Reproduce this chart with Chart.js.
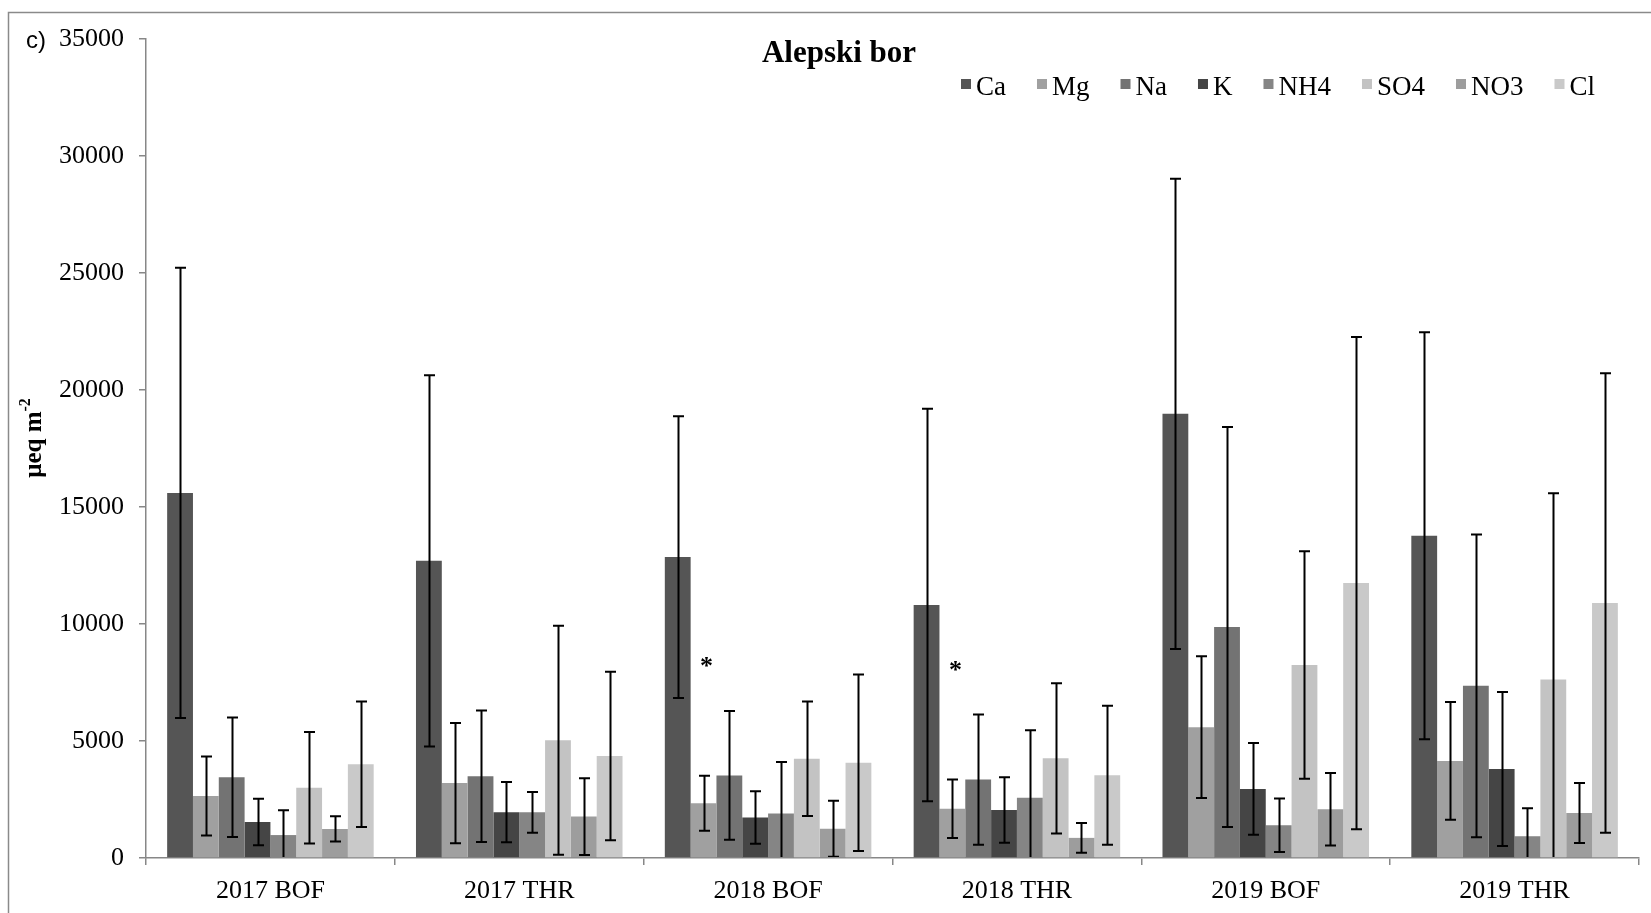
<!DOCTYPE html>
<html><head><meta charset="utf-8">
<script src="https://cdn.jsdelivr.net/npm/chart.js@4.4.1/dist/chart.umd.min.js"></script>
<style>html,body{margin:0;padding:0;background:#fff;}canvas{display:block}</style>
</head><body>
<canvas id="c" width="1651" height="913"></canvas>
<script>
// ---- data ----
const categories = ['2017 BOF', '2017 THR', '2018 BOF', '2018 THR', '2019 BOF', '2019 THR'];
const seriesNames = ['Ca', 'Mg', 'Na', 'K', 'NH4', 'SO4', 'NO3', 'Cl'];
const Ca  = [15600, 12700, 12860, 10810, 18980, 13770];
const Mg  = [2650, 3200, 2340, 2100, 5590, 4150];
const Na  = [3450, 3490, 3530, 3350, 9870, 7360];
const K   = [1540, 1960, 1730, 2050, 2950, 3800];
const NH4 = [980, 1950, 1900, 2580, 1400, 930];
const SO4 = [3000, 5030, 4240, 4260, 8250, 7630];
const NO3 = [1240, 1770, 1250, 860, 2080, 1920];
const Cl  = [4010, 4360, 4070, 3540, 11750, 10900];
const CaErr  = [9620, 7930, 6020, 8390, 10050, 8700];
const MgErr  = [1690, 2570, 1180, 1250, 3030, 2520];
const NaErr  = [2550, 2810, 2750, 2780, 8550, 6470];
const KErr   = [990, 1290, 1120, 1400, 1960, 3290];
const NH4Err = [1060, 870, 2200, 2880, 1140, 1200];
const SO4Err = [2380, 4890, 2450, 3210, 4860, 7960];
const NO3Err = [540, 1640, 1200, 640, 1550, 1280];
const ClErr  = [2680, 3600, 3770, 2970, 10520, 9820];
const yTicks = [0, 5000, 10000, 15000, 20000, 25000, 30000, 35000];
const stars = [{category: '2018 BOF', series: 'Mg', value: 8400}, {category: '2018 THR', series: 'Mg', value: 8250}];
const titleText = 'Alepski bor';
const panelLabel = 'c)';

const seriesValues = [Ca, Mg, Na, K, NH4, SO4, NO3, Cl];
const seriesErrors = [CaErr, MgErr, NaErr, KErr, NH4Err, SO4Err, NO3Err, ClErr];
const colors = ['#555555', '#a0a0a0', '#737373', '#454545', '#858585', '#c3c3c3', '#9d9d9d', '#c9c9c9'];

const SERIF = '"Liberation Serif", "Times New Roman", serif';
const AXIS = '#878787';

const errorBars = {
  id: 'errorBars',
  afterDatasetsDraw(chart) {
    const ctx = chart.ctx, ys = chart.scales.y, a = chart.chartArea;
    ctx.save();
    ctx.beginPath(); ctx.rect(a.left, a.top - 2, a.right - a.left, a.bottom - a.top + 1); ctx.clip();
    ctx.strokeStyle = '#000'; ctx.lineWidth = 2;
    chart.data.datasets.forEach((ds, i) => {
      const meta = chart.getDatasetMeta(i);
      meta.data.forEach((bar, j) => {
        const v = ds.data[j], e = ds.errors[j];
        const x = Math.round(bar.x) + 0.5;
        const yt = ys.getPixelForValue(v + e), yb = ys.getPixelForValue(v - e);
        ctx.beginPath();
        ctx.moveTo(x, yt); ctx.lineTo(x, yb);
        ctx.moveTo(x - 5.5, yt); ctx.lineTo(x + 5.5, yt);
        ctx.moveTo(x - 5.5, yb); ctx.lineTo(x + 5.5, yb);
        ctx.stroke();
      });
    });
    ctx.restore();
  }
};

const decorations = {
  id: 'decorations',
  afterDraw(chart) {
    const ctx = chart.ctx, ys = chart.scales.y;
    ctx.save();
    // frame
    ctx.strokeStyle = '#8a8a8a'; ctx.lineWidth = 1.5;
    ctx.beginPath(); ctx.moveTo(8.5, 913); ctx.lineTo(8.5, 12.5); ctx.lineTo(1651, 12.5); ctx.stroke();
    // panel label
    ctx.fillStyle = '#000';
    ctx.font = '24px "Liberation Sans", Arial, sans-serif';
    ctx.textAlign = 'left'; ctx.textBaseline = 'alphabetic';
    ctx.fillText(panelLabel, 26, 48);
    // title
    ctx.font = 'bold 31px ' + SERIF;
    ctx.textAlign = 'center';
    ctx.fillText(titleText, 839, 62);
    // legend
    ctx.font = '27px ' + SERIF;
    ctx.textAlign = 'left';
    let x = 961;
    const base = 95, box = 10, gapBT = 5, gapItem = 31;
    seriesNames.forEach((n, i) => {
      ctx.fillStyle = colors[i];
      ctx.fillRect(x, base - 16, box, box);
      ctx.fillStyle = '#000';
      ctx.fillText(n, x + box + gapBT, base);
      x += box + gapBT + ctx.measureText(n).width + gapItem;
    });
    // y-axis title with superscript
    ctx.translate(41, 438);
    ctx.rotate(-Math.PI / 2);
    ctx.font = 'bold 25px ' + SERIF;
    const main = 'μeq m', sup = '-2';
    const w1 = ctx.measureText(main).width;
    ctx.font = 'bold 16px ' + SERIF;
    const w2 = ctx.measureText(sup).width;
    const start = -(w1 + w2) / 2;
    ctx.font = 'bold 25px ' + SERIF;
    ctx.fillText(main, start, 0);
    ctx.font = 'bold 16px ' + SERIF;
    ctx.fillText(sup, start + w1, -11);
    ctx.restore();
    // stars
    ctx.save();
    ctx.fillStyle = '#000';
    ctx.font = 'bold 26px ' + SERIF;
    ctx.textAlign = 'center'; ctx.textBaseline = 'middle';
    stars.forEach(s => {
      const meta = chart.getDatasetMeta(seriesNames.indexOf(s.series));
      const bar = meta.data[categories.indexOf(s.category)];
      ctx.fillText('*', bar.x + 3, ys.getPixelForValue(s.value) + 6);
    });
    ctx.restore();
  }
};

new Chart(document.getElementById('c'), {
  type: 'bar',
  data: {
    labels: categories,
    datasets: seriesNames.map((n, i) => ({
      label: n, data: seriesValues[i], errors: seriesErrors[i],
      backgroundColor: colors[i], borderWidth: 0,
      categoryPercentage: 0.83, barPercentage: 1.0
    }))
  },
  options: {
    responsive: false, animation: false, devicePixelRatio: 1,
    layout: {padding: {left: 0, right: 12, top: 39, bottom: 0}},
    plugins: {legend: {display: false}, title: {display: false}, tooltip: {enabled: false}},
    scales: {
      x: {
        offset: true,
        grid: {offset: true, drawOnChartArea: false, drawTicks: true, tickLength: 7, color: AXIS, lineWidth: 1.5},
        border: {color: AXIS, width: 1.5},
        ticks: {font: {family: SERIF, size: 26}, color: '#000', padding: 11, maxRotation: 0, autoSkip: false},
        afterFit(s) { s.height = 55; }
      },
      y: {
        min: 0, max: 35000,
        afterBuildTicks(s) { s.ticks = yTicks.map(v => ({value: v})); },
        grid: {drawOnChartArea: false, drawTicks: true, tickLength: 7, color: AXIS, lineWidth: 1.5},
        border: {color: AXIS, width: 1.5},
        ticks: {font: {family: SERIF, size: 26}, color: '#000', padding: 15, callback: v => String(v)},
        afterFit(s) { s.width = 146; }
      }
    }
  },
  plugins: [errorBars, decorations]
});
</script>
</body></html>
